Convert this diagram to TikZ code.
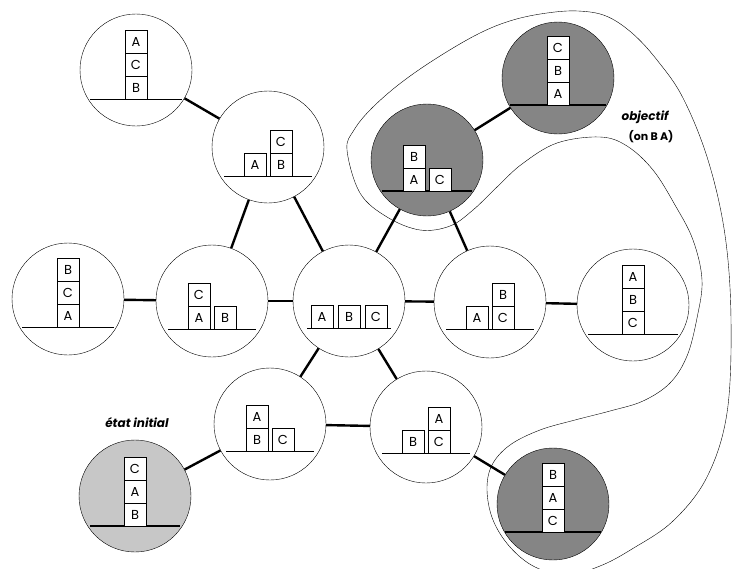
\documentclass[tikz,border=0pt]{standalone}
\usepackage{fontspec}
\setmainfont{Poppins}
\usetikzlibrary{positioning}

\begin{document}
\begin{tikzpicture}[x=1pt, y=-1pt, node distance=23pt, on grid,
state/.style={circle, draw, thin, fill=white, minimum size=112pt, inner sep=0pt},
goalstate/.style={state, fill=black!48},
initstate/.style={state, fill=black!22},
block/.style={draw, thin, fill=white, minimum size=22.6pt, inner sep=0pt,
  font=\fontsize{13}{13}\selectfont},
ground/.style={line width=0.9pt},
edge/.style={line width=2.4pt},
tag/.style={font=\fontsize{12}{12}\selectfont\bfseries\itshape}]
\useasboundingbox (0,0) rectangle (733,568);

% region of the goal (on B A)
\draw[thin] plot[smooth cycle, tension=0.6] coordinates {
  (347,150) (360,193) (387,217) (420,230) (450,226) (473,210) (497,187)
  (522,164) (557,143) (600,137) (627,146) (653,170) (675,205) (693,240)
  (702,280) (697,318) (687,356) (670,383) (643,401) (610,411) (575,420)
  (540,430) (510,445) (492,465) (487,490) (493,520) (510,547) (535,567)
  (567,575) (600,566) (632,549) (673,521) (707,477) (727,413) (731,320)
  (725,235) (708,160) (683,98) (657,60) (632,33) (606,16) (578,11)
  (547,13) (513,20) (480,33) (440,56) (402,82) (372,108) (354,130)};

% states
\node[state] (s1) at (136,70) {};
\draw[ground] ([shift={(-46pt,-29pt)}]s1.center) -- ([shift={(46pt,-29pt)}]s1.center);
\node[block] (s1b) [below=17.5pt of s1] {B};
\node[block] (s1c) [above=of s1b] {C};
\node[block] (s1a) [above=of s1c] {A};

\node[state] (s2) at (268,147) {};
\draw[ground] ([shift={(-44pt,-29pt)}]s2.center) -- ([shift={(44pt,-29pt)}]s2.center);
\node[block] (s2a) [below left=17.5pt and 13pt of s2] {A};
\node[block] (s2b) [below right=17.5pt and 13pt of s2] {B};
\node[block] (s2c) [above=of s2b] {C};

\node[state] (s3) at (68,299) {};
\draw[ground] ([shift={(-46pt,-28pt)}]s3.center) -- ([shift={(46pt,-28pt)}]s3.center);
\node[block] (s3a) [below=16.5pt of s3] {A};
\node[block] (s3c) [above=of s3a] {C};
\node[block] (s3b) [above=of s3c] {B};

\node[state] (s4) at (212,301) {};
\draw[ground] ([shift={(-44pt,-28pt)}]s4.center) -- ([shift={(44pt,-28pt)}]s4.center);
\node[block] (s4a) [below left=16.5pt and 13pt of s4] {A};
\node[block] (s4b) [below right=16.5pt and 13pt of s4] {B};
\node[block] (s4c) [above=of s4a] {C};

\node[state] (s5) at (349,301) {};
\draw[ground] ([shift={(-42pt,-27pt)}]s5.center) -- ([shift={(42pt,-27pt)}]s5.center);
\node[block] (s5b) [below=15.5pt of s5] {B};
\node[block] (s5a) [left=27pt of s5b] {A};
\node[block] (s5c) [right=27pt of s5b] {C};

\node[goalstate] (s6) at (427,160) {};
\draw[ground, line width=1.6pt] ([shift={(-45pt,-31pt)}]s6.center) -- ([shift={(45pt,-31pt)}]s6.center);
\node[block] (s6a) [below left=19.5pt and 13pt of s6] {A};
\node[block] (s6c) [below right=19.5pt and 13pt of s6] {C};
\node[block] (s6b) [above=of s6a] {B};

\node[goalstate] (s7) at (558,78) {};
\draw[ground, line width=1.6pt] ([shift={(-48pt,-27pt)}]s7.center) -- ([shift={(48pt,-27pt)}]s7.center);
\node[block] (s7a) [below=15.5pt of s7] {A};
\node[block] (s7b) [above=of s7a] {B};
\node[block] (s7c) [above=of s7b] {C};

\node[state] (s8) at (490,302) {};
\draw[ground] ([shift={(-44pt,-27pt)}]s8.center) -- ([shift={(44pt,-27pt)}]s8.center);
\node[block] (s8a) [below left=15.5pt and 13pt of s8] {A};
\node[block] (s8c) [below right=15.5pt and 13pt of s8] {C};
\node[block] (s8b) [above=of s8c] {B};

\node[state] (s9) at (633,305) {};
\draw[ground] ([shift={(-45pt,-29pt)}]s9.center) -- ([shift={(45pt,-29pt)}]s9.center);
\node[block] (s9c) [below=17.5pt of s9] {C};
\node[block] (s9b) [above=of s9c] {B};
\node[block] (s9a) [above=of s9b] {A};

\node[state] (s10) at (270,424) {};
\draw[ground] ([shift={(-44pt,-27pt)}]s10.center) -- ([shift={(44pt,-27pt)}]s10.center);
\node[block] (s10b) [below left=15.5pt and 13pt of s10] {B};
\node[block] (s10c) [below right=15.5pt and 13pt of s10] {C};
\node[block] (s10a) [above=of s10b] {A};

\node[state] (s11) at (426,427) {};
\draw[ground] ([shift={(-44pt,-26pt)}]s11.center) -- ([shift={(44pt,-26pt)}]s11.center);
\node[block] (s11b) [below left=14.5pt and 13pt of s11] {B};
\node[block] (s11c) [below right=14.5pt and 13pt of s11] {C};
\node[block] (s11a) [above=of s11c] {A};

\node[initstate] (s12) at (135,496) {};
\draw[ground, line width=1.4pt] ([shift={(-45pt,-30pt)}]s12.center) -- ([shift={(45pt,-30pt)}]s12.center);
\node[block] (s12b) [below=18.5pt of s12] {B};
\node[block] (s12a) [above=of s12b] {A};
\node[block] (s12c) [above=of s12a] {C};

\node[goalstate] (s13) at (553,504) {};
\draw[ground, line width=1.6pt] ([shift={(-48pt,-28pt)}]s13.center) -- ([shift={(48pt,-28pt)}]s13.center);
\node[block] (s13c) [below=16.5pt of s13] {C};
\node[block] (s13a) [above=of s13c] {A};
\node[block] (s13b) [above=of s13a] {B};

% labels
\node[tag] (goal) at (645,117) {objectif};
\node[font=\fontsize{11}{11}\selectfont\bfseries] (goalon) [below right=20pt and 6pt of goal] {(on B A)};
\node[tag] (init) at (137,423) {état initial};

% moves
\draw[edge] (s1) -- (s2);
\draw[edge] (s2) -- (s4);
\draw[edge] (s2) -- (s5);
\draw[edge] (s3) -- (s4);
\draw[edge] (s4) -- (s5);
\draw[edge] (s5) -- (s6);
\draw[edge] (s6) -- (s7);
\draw[edge] (s6) -- (s8);
\draw[edge] (s5) -- (s8);
\draw[edge] (s8) -- (s9);
\draw[edge] (s5) -- (s10);
\draw[edge] (s5) -- (s11);
\draw[edge] (s10) -- (s11);
\draw[edge] (s10) -- (s12);
\draw[edge] (s11) -- (s13);
\end{tikzpicture}
\end{document}
